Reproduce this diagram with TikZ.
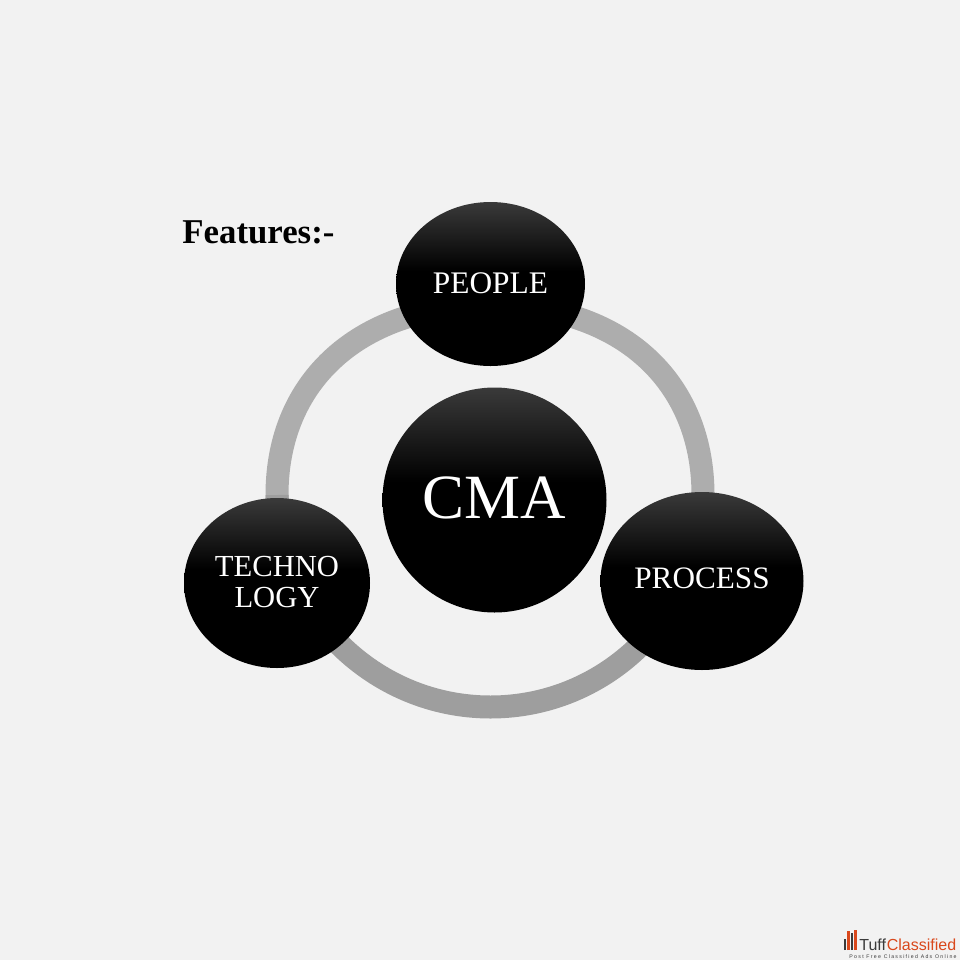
\documentclass[tikz,border=0pt]{standalone}
\usepackage{fontspec}
\setmainfont{Liberation Serif}
\newfontfamily\logofont{Liberation Sans}
\usetikzlibrary{shapes.geometric,calc}
\pgfdeclarelayer{under}
\pgfsetlayers{under,main}
\definecolor{pagebg}{HTML}{F2F2F2}
\definecolor{ringtop}{HTML}{ADADAD}
\definecolor{ringlow}{HTML}{9E9E9E}
\definecolor{balltop}{HTML}{3A3A3A}
\definecolor{logored}{HTML}{D9481C}
\definecolor{logodark}{HTML}{3A3A3A}
\pgfdeclareverticalshading{ballshade}{100bp}{color(0bp)=(black); color(54bp)=(black); color(75bp)=(balltop); color(100bp)=(balltop)}
\tikzset{
  ball/.style={ellipse,inner sep=0pt,shading=ballshade,text=white,align=center},
  ringline/.style={line width=11.5pt,line cap=butt},
  logobar/.style={line width=1.1pt},
}
\begin{document}
\begin{tikzpicture}[x=0.5pt,y=-0.5pt]
\useasboundingbox (0,0) rectangle (960,960);
\node[ball,minimum width=94.5pt,minimum height=82pt,font=\fontsize{15.7}{18}\selectfont] (people) at (490.5,284) {\raisebox{1pt}{PEOPLE}};
\node[ball,minimum width=112pt,minimum height=112.5pt,font=\fontsize{31.5}{38}\selectfont] (cma) at (494.5,500) {\raisebox{2pt}{CMA}};
\node[ball,minimum width=101.5pt,minimum height=89pt,font=\fontsize{15.6}{18}\selectfont] (process) at (702,581) {\raisebox{3pt}{PROCESS}};
\node[ball,minimum width=93pt,minimum height=85pt,font=\fontsize{15.3}{15.5}\selectfont] (tech) at (277,583) {\raisebox{1.5pt}{TECHNO}\\\raisebox{1.5pt}{LOGY}};
\node[anchor=west,inner sep=0pt,font=\fontsize{17.4}{20}\selectfont\bfseries] (features) at (182,232) {Features:-};
\coordinate (rtop) at ($(people.center)+(0,21)$);
\coordinate (rright) at ($(process.center)+(1,-86)$);
\coordinate (rleft) at ($(tech.center)+(0,-88)$);
\coordinate (rbot) at ($(rtop)+(0,402)$);
\begin{pgfonlayer}{under}
  \fill[pagebg] (0,0) rectangle (960,960);
  \draw[ringline,ringtop] (people.center) -- (rtop) .. controls ($(rtop)+(130,0)$) and ($(rright)+(0,-115)$) .. (rright) -- (process.center);
  \draw[ringline,ringtop] (people.center) -- (rtop) .. controls ($(rtop)+(-130,0)$) and ($(rleft)+(0,-115)$) .. (rleft) -- (tech.center);
  \draw[ringline,ringlow] (rleft) .. controls ($(rleft)+(0,117)$) and ($(rbot)+(-117,0)$) .. (rbot) .. controls ($(rbot)+(117,0)$) and ($(rright)+(0,117)$) .. (rright);
\end{pgfonlayer}
% logo
\draw[logobar,logodark] (845,950) -- (845,939);
\draw[logobar,logored] (848.5,950) -- (848.5,931);
\draw[logobar,logodark] (852,950) -- (852,933);
\draw[logobar,logored] (855.5,950) -- (855.5,930);
\node[anchor=base west,inner sep=0pt,font=\logofont\fontsize{8}{10}\selectfont,text=logodark] (logoa) at (859,950) {Tuff};
\node[anchor=base west,inner sep=0pt,font=\logofont\fontsize{8}{10}\selectfont,text=logored] (logob) at (logoa.base east) {Classified};
\node[anchor=base west,inner sep=0pt,font=\logofont\fontsize{2.6}{3}\selectfont,text=logodark] (logoc) at (849,958) {\addfontfeature{LetterSpace=25}Post Free Classified Ads Online};
\end{tikzpicture}
\end{document}
